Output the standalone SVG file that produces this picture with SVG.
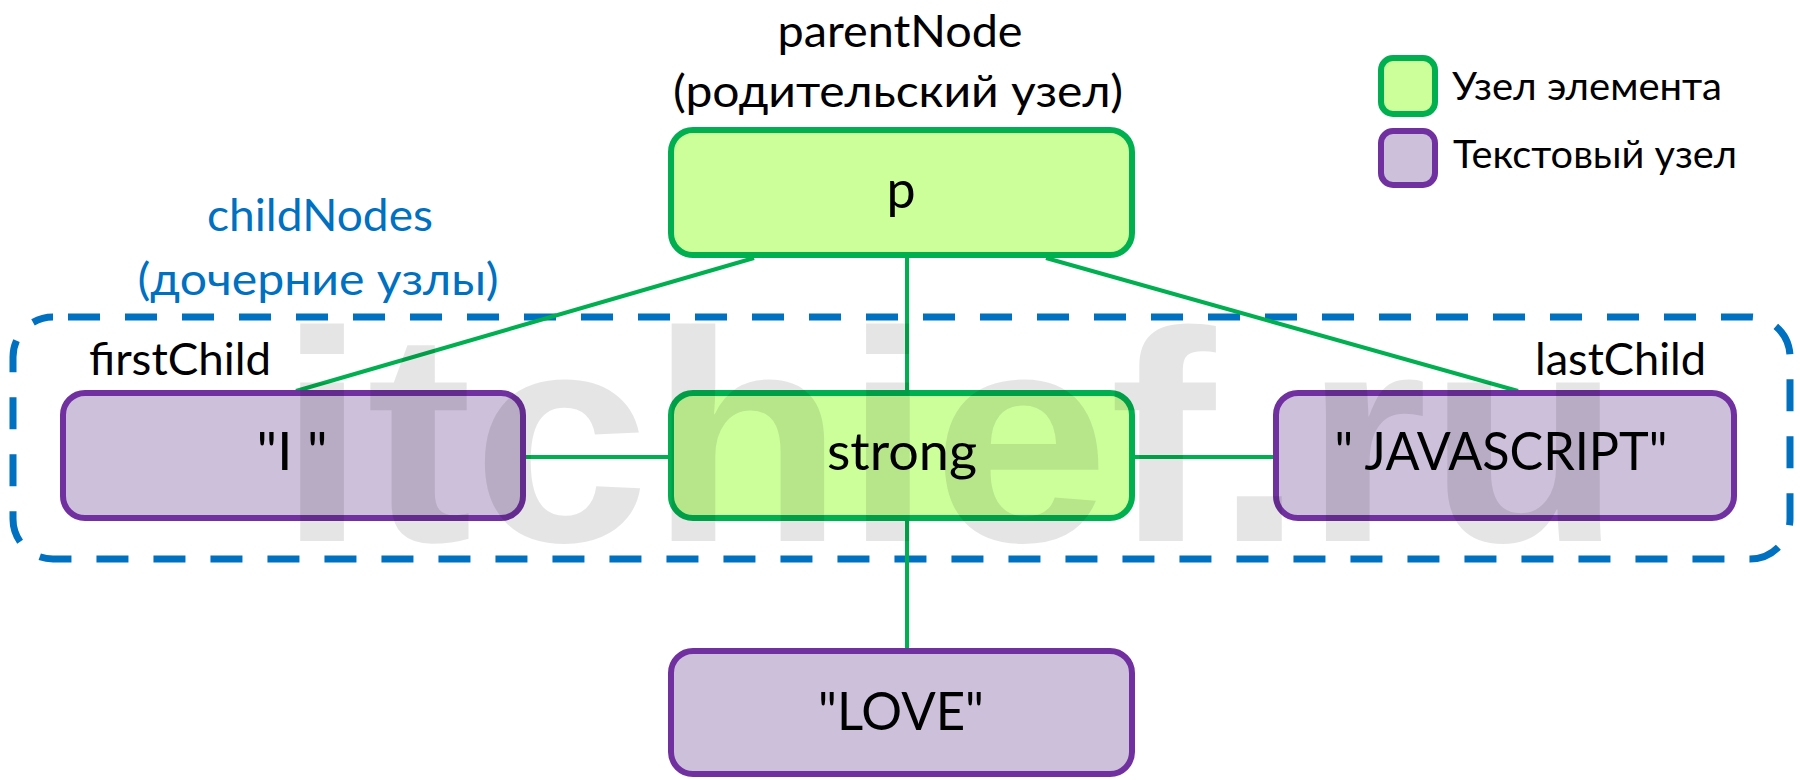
<svg xmlns="http://www.w3.org/2000/svg" width="1800" height="780" viewBox="0 0 1800 780">
<style>
.t{font-family:"Lato","Open Sans","Liberation Sans",sans-serif;fill:#000}
.lbl{font-size:45px}
.node{font-size:52px}
.leg{font-size:38px}
.blue{fill:#0070c0}
.el{fill:#ccff99;stroke:#00b050;stroke-width:6}
.tx{fill:#ccc0da;stroke:#7030a0;stroke-width:6}
.edge{stroke:#00b050;stroke-width:4;fill:none}
.wm{font-family:"Liberation Sans",Arial,sans-serif;font-weight:bold;font-size:300px;fill:#000;fill-opacity:0.1}
</style>
<rect width="1800" height="780" fill="#fff"/>
<g id="childNodes-group">
<rect x="13" y="317" width="1777" height="242" rx="40" fill="none" stroke="#0070c0" stroke-width="7" stroke-dasharray="32 25" stroke-dashoffset="42"/>
<text class="t lbl blue" x="320" y="231" text-anchor="middle" textLength="226" lengthAdjust="spacingAndGlyphs">childNodes</text>
<text class="t lbl blue" x="318" y="295" text-anchor="middle" textLength="361" lengthAdjust="spacingAndGlyphs">(дочерние узлы)</text>
</g>
<g id="connectors">
<line class="edge" x1="754" y1="258" x2="296" y2="391"/>
<line class="edge" x1="1046" y1="258" x2="1518" y2="391"/>
<line class="edge" x1="907" y1="258" x2="907" y2="390"/>
<line class="edge" x1="907" y1="521" x2="907" y2="648"/>
<line class="edge" x1="526" y1="457" x2="668" y2="457"/>
<line class="edge" x1="1135" y1="457" x2="1273" y2="457"/>
</g>
<g id="node-p">
<text class="t lbl" x="900" y="47" text-anchor="middle" textLength="245" lengthAdjust="spacingAndGlyphs">parentNode</text>
<text class="t lbl" x="898" y="107" text-anchor="middle" textLength="450" lengthAdjust="spacingAndGlyphs">(родительский узел)</text>
<rect class="el" x="671" y="130" width="461" height="125" rx="22"/>
<text class="t node" x="901" y="208" text-anchor="middle">p</text>
</g>
<g id="node-i">
<text class="t lbl" x="89" y="375" textLength="182" lengthAdjust="spacingAndGlyphs">firstChild</text>
<rect class="tx" x="63" y="393" width="460" height="125" rx="22"/>
<text class="t node" x="292" y="470" text-anchor="middle" textLength="71" lengthAdjust="spacingAndGlyphs">"I "</text>
</g>
<g id="node-strong">
<rect class="el" x="671" y="393" width="461" height="125" rx="22"/>
<text class="t node" x="902" y="470" text-anchor="middle" textLength="150" lengthAdjust="spacingAndGlyphs">strong</text>
</g>
<g id="node-javascript">
<text class="t lbl" x="1535" y="375" textLength="171" lengthAdjust="spacingAndGlyphs">lastChild</text>
<rect class="tx" x="1276" y="393" width="458" height="125" rx="22"/>
<text class="t node" x="1501" y="470" text-anchor="middle" textLength="333" lengthAdjust="spacingAndGlyphs">" JAVASCRIPT"</text>
</g>
<g id="node-love">
<rect class="tx" x="671" y="651" width="461" height="123" rx="22"/>
<text class="t node" x="901" y="730" text-anchor="middle" textLength="166" lengthAdjust="spacingAndGlyphs">"LOVE"</text>
</g>
<g id="legend">
<rect class="el" x="1381" y="58" width="54" height="56" rx="12"/>
<rect class="tx" x="1381" y="131" width="54" height="54" rx="12"/>
<text class="t leg" x="1452" y="100" textLength="270" lengthAdjust="spacingAndGlyphs">Узел элемента</text>
<text class="t leg" x="1453" y="168" textLength="284" lengthAdjust="spacingAndGlyphs">Текстовый узел</text>
</g>
<text class="wm" x="278" y="541" textLength="1344" lengthAdjust="spacingAndGlyphs">itchief.ru</text>
</svg>
